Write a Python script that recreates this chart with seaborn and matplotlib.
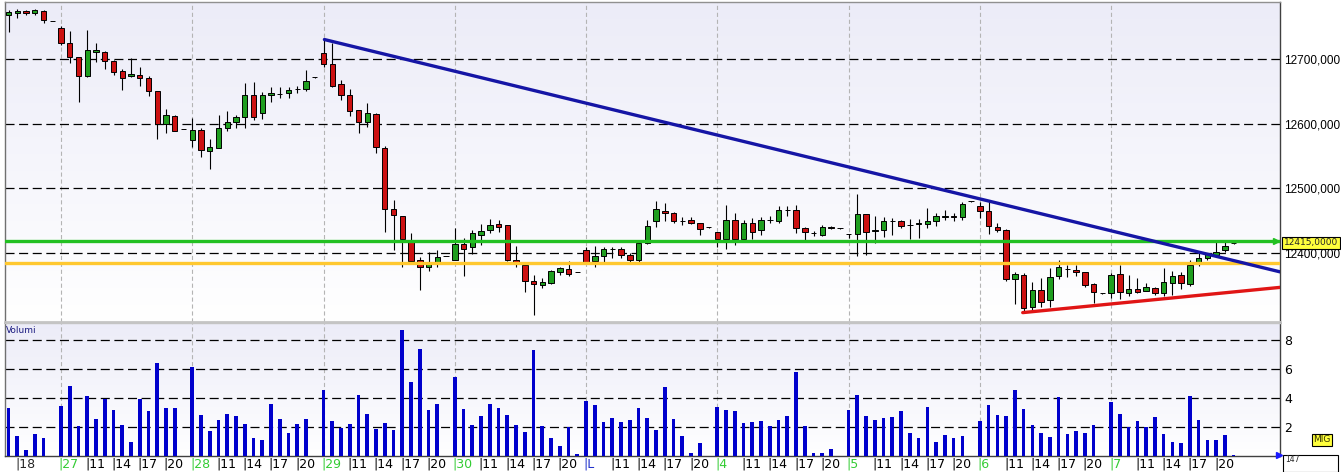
import numpy as np
import pandas as pd
import matplotlib
matplotlib.use('Agg')
import matplotlib.pyplot as plt
import matplotlib.transforms as mtransforms
from matplotlib.colors import LinearSegmentedColormap
import seaborn as sns

# hourly candles, 15 slots per day (8..22), first 6 slots = end of previous day
opens = [12768, 12771, 12774, 12771, 12774, 12759,
         12748, 12724, 12703, 12673, 12710, 12711, 12697, 12682, 12673, 12675, 12671, 12650, 12600, 12612, 12592,
         12575, 12590, 12558, 12563, 12594, 12602, 12610, 12644, 12616, 12644, 12646, 12647, 12653, 12653, 12672,
         12709, 12692, 12661, 12644, 12621, 12603, 12615, 12563, 12468, 12457, 12418, 12390, 12378, 12386, 12396,
         12390, 12414, 12409, 12428, 12436, 12445, 12443, 12390, 12382, 12357, 12350, 12353, 12370, 12375, 12371,
         12405, 12387, 12396, 12406, 12406, 12397, 12389, 12415, 12449, 12465, 12462, 12450, 12451, 12446, 12440,
         12432, 12422, 12451, 12422, 12446, 12436, 12451, 12450, 12467, 12467, 12438, 12431, 12428, 12441, 12438,
         12429, 12429, 12460, 12434, 12436, 12450, 12450, 12444, 12445, 12445, 12449, 12456, 12457, 12456, 12480,
         12472, 12465, 12441, 12436, 12360, 12366, 12316, 12343, 12327, 12365, 12376, 12374, 12370, 12352, 12338,
         12338, 12367, 12339, 12344, 12342, 12346, 12338, 12353, 12366, 12352, 12385, 12392, 12397, 12404, 12415]
highs = [12776, 12777, 12775, 12777, 12776, 12759,
         12751, 12743, 12703, 12745, 12725, 12713, 12699, 12684, 12701, 12688, 12674, 12651, 12622, 12613, 12592,
         12608, 12593, 12576, 12613, 12620, 12613, 12663, 12665, 12649, 12656, 12656, 12657, 12658, 12683, 12672,
         12730, 12724, 12668, 12653, 12621, 12632, 12616, 12566, 12482, 12458, 12431, 12394, 12401, 12405, 12396,
         12438, 12424, 12436, 12445, 12453, 12451, 12443, 12411, 12382, 12366, 12362, 12374, 12379, 12388, 12371,
         12410, 12411, 12410, 12410, 12410, 12400, 12418, 12451, 12481, 12478, 12463, 12455, 12455, 12447, 12440,
         12433, 12474, 12462, 12451, 12454, 12456, 12458, 12473, 12472, 12474, 12441, 12434, 12443, 12442, 12438,
         12430, 12492, 12460, 12457, 12455, 12454, 12451, 12453, 12453, 12469, 12462, 12466, 12462, 12479, 12480,
         12479, 12481, 12446, 12437, 12371, 12369, 12356, 12361, 12377, 12390, 12382, 12382, 12371, 12353, 12338,
         12369, 12382, 12366, 12361, 12353, 12348, 12377, 12373, 12371, 12389, 12402, 12400, 12420, 12419, 12415]
lows = [12742, 12763, 12768, 12768, 12755, 12758,
        12722, 12693, 12634, 12672, 12696, 12685, 12675, 12652, 12672, 12658, 12642, 12577, 12586, 12589, 12591,
        12564, 12549, 12530, 12562, 12588, 12594, 12594, 12605, 12607, 12633, 12639, 12640, 12647, 12651, 12671,
        12688, 12656, 12636, 12612, 12585, 12595, 12555, 12432, 12404, 12379, 12384, 12343, 12372, 12379, 12395,
        12389, 12364, 12399, 12413, 12431, 12432, 12387, 12378, 12340, 12304, 12346, 12352, 12366, 12365, 12370,
        12384, 12378, 12386, 12392, 12393, 12386, 12386, 12414, 12441, 12449, 12446, 12443, 12445, 12428, 12439,
        12410, 12407, 12413, 12420, 12422, 12428, 12446, 12446, 12457, 12431, 12417, 12427, 12426, 12437, 12437,
        12424, 12396, 12397, 12416, 12425, 12428, 12438, 12422, 12423, 12439, 12442, 12451, 12449, 12451, 12479,
        12454, 12429, 12432, 12357, 12322, 12307, 12312, 12317, 12317, 12360, 12363, 12365, 12348, 12323, 12337,
        12330, 12329, 12334, 12338, 12341, 12335, 12334, 12335, 12344, 12349, 12380, 12390, 12394, 12401, 12414]
closes = [12772, 12774, 12771, 12775, 12760, 12759,
          12724, 12703, 12673, 12714, 12714, 12697, 12680, 12671, 12677, 12670, 12650, 12600, 12613, 12589, 12592,
          12590, 12560, 12564, 12594, 12603, 12611, 12645, 12611, 12644, 12648, 12646, 12652, 12653, 12666, 12672,
          12692, 12658, 12645, 12620, 12603, 12616, 12564, 12468, 12459, 12421, 12387, 12378, 12383, 12394, 12396,
          12414, 12406, 12431, 12434, 12443, 12441, 12390, 12386, 12357, 12352, 12355, 12372, 12377, 12367, 12371,
          12386, 12396, 12406, 12406, 12397, 12389, 12415, 12442, 12468, 12462, 12449, 12450, 12447, 12437, 12440,
          12422, 12451, 12422, 12446, 12433, 12451, 12451, 12466, 12467, 12438, 12432, 12431, 12441, 12438, 12438,
          12429, 12460, 12433, 12435, 12450, 12450, 12442, 12444, 12446, 12450, 12457, 12457, 12456, 12476, 12480,
          12465, 12442, 12436, 12360, 12367, 12315, 12343, 12324, 12363, 12378, 12375, 12370, 12351, 12340, 12338,
          12366, 12340, 12344, 12340, 12348, 12339, 12355, 12365, 12353, 12382, 12392, 12398, 12402, 12411, 12415]
volumes = [3.32, 1.41, 0.41, 1.55, 1.27, 0.0,
           3.45, 4.84, 2.05, 4.16, 2.52, 3.95, 3.2, 2.16, 0.95, 3.9, 3.09, 6.41, 3.34, 3.34, 0.0,
           6.14, 2.8, 1.7, 2.45, 2.93, 2.73, 2.18, 1.23, 1.09, 3.61, 2.52, 1.57, 2.18, 2.52, 0.0,
           4.57, 2.39, 1.95, 2.18, 4.23, 2.93, 1.84, 2.25, 1.77, 8.66, 5.11, 7.36, 3.2, 3.61, 0.0,
           5.45, 3.27, 2.11, 2.73, 3.61, 3.34, 2.8, 2.11, 1.64, 7.3, 2.05, 1.23, 0.68, 1.98, 0.14,
           3.82, 3.55, 2.32, 2.59, 2.32, 2.45, 3.34, 2.59, 1.77, 4.77, 2.52, 1.36, 0.2, 0.89, 0.0,
           3.41, 3.2, 3.07, 2.25, 2.32, 2.39, 2.05, 2.45, 2.73, 5.8, 2.05, 0.2, 0.2, 0.48, 0.0,
           3.14, 4.23, 2.73, 2.45, 2.59, 2.66, 3.07, 1.57, 1.23, 3.41, 0.95, 1.43, 1.23, 1.36, 0.0,
           2.39, 3.55, 2.8, 2.73, 4.57, 3.27, 2.11, 1.57, 1.3, 4.09, 1.5, 1.7, 1.57, 2.11, 0.0,
           3.75, 2.93, 1.98, 2.39, 1.98, 2.66, 1.5, 0.95, 0.89, 4.16, 2.45, 1.09, 1.09, 1.43, 0.07]

day_slots = [6, 21, 36, 51, 66, 81, 96, 111, 126]
day_names = ['27', '28', '29', '30', 'L', '4', '5', '6', '7']
hour_names = ['11', '14', '17', '20']

price_ticks = [12400, 12500, 12600, 12700]
vol_ticks = [2, 4, 6, 8]
last_price = 12415

# drawn lines (slot, price)
blue_x, blue_y = [36.1, 145.3], [12730, 12371]
red_x, red_y = [115.9, 145.3], [12308, 12347]
green_level = 12418
orange_level = 12384

df = pd.DataFrame({'open': opens, 'high': highs, 'low': lows, 'close': closes, 'vol': volumes})
df['slot'] = np.arange(len(df))

sns.set_theme(style='white')
plt.rcParams['font.family'] = ['DejaVu Sans']
plt.rcParams['lines.scale_dashes'] = False

W, H = 1341, 472
fig = plt.figure(figsize=(W / 100, H / 100), dpi=100)
fig.patch.set_facecolor('white')


def px_box(x0, y0, x1, y1):
    return [x0 / W, 1 - y1 / H, (x1 - x0) / W, (y1 - y0) / H]


ax = fig.add_axes(px_box(5, 2, 1280, 322))
axv = fig.add_axes(px_box(5, 323, 1280, 456))

# soft background gradient
grad = np.linspace(0, 1, 256).reshape(-1, 1)
bg_cmap = LinearSegmentedColormap.from_list('bg', ['#ffffff', '#ececf8'])
for a in (ax, axv):
    a.imshow(grad, cmap=bg_cmap, extent=[0, 1, 0, 1], transform=a.transAxes,
             aspect='auto', origin='lower', zorder=0)

# grids
for p in price_ticks:
    ax.axhline(p, color='black', lw=0.9, dashes=(6.5, 3.3), zorder=2)
for v in vol_ticks:
    axv.axhline(v, color='black', lw=0.9, dashes=(6.5, 3.3), zorder=2)
for s in day_slots:
    for a in (ax, axv):
        a.axvline(s, color='#b4b4b4', lw=0.8, dashes=(3, 2), zorder=1)

# candles
colors = np.where(df['close'] > df['open'], '#1f9e1f',
                  np.where(df['close'] < df['open'], '#cc1111', '#000000'))
ax.vlines(df['slot'], df['low'], df['high'], color='black', lw=0.8, zorder=3)
ax.bar(df['slot'], df['close'] - df['open'], bottom=df['open'], width=0.62,
       color=colors, edgecolor='black', linewidth=0.7, zorder=4)

# levels and trendlines
ax.axhline(green_level, color='#22c022', lw=2.4, zorder=5)
ax.axhline(orange_level, color='#ffc830', lw=2.4, zorder=5)
ax.plot(blue_x, blue_y, color='#1515a5', lw=2.4, zorder=6)
ax.plot(red_x, red_y, color='#e01515', lw=2.4, zorder=6)
ax.plot(144.8, green_level, marker='>', color='#22c022', ms=5, zorder=7)

# volume
sns.barplot(x='slot', y='vol', data=df, color='#0000cc', width=0.42, saturation=1,
            linewidth=0, antialiased=False, ax=axv, zorder=3)
axv.plot(145.2, 0.05, marker='>', color='#1a1aff', ms=5, clip_on=False, zorder=7)

# axes setup
ax.set_xlim(-0.4, 145.3)
ax.set_ylim(12293.5, 12788)
axv.set_xlim(-0.4, 145.3)
axv.set_ylim(0, 9.17)
for a in (ax, axv):
    a.set_xticks([])
    a.set_xlabel('')
    a.set_ylabel('')
    a.yaxis.tick_right()
    a.tick_params(axis='y', length=0, pad=3, labelsize=9, colors='black')
    a.grid(False)
ax.set_yticks(price_ticks)
ax.set_yticklabels([f'{p},000' for p in price_ticks], family='Liberation Sans', fontsize=8.5)
axv.set_yticks(vol_ticks)
axv.set_yticklabels([str(v) for v in vol_ticks])

for a in (ax, axv):
    a.spines['left'].set_color('#707070')
    a.spines['right'].set_color('#404040')
    a.spines['top'].set_color('#909090')
    a.spines['bottom'].set_color('#404040')
    for sp in a.spines.values():
        sp.set_linewidth(1.0)
ax.spines['bottom'].set_color('#c4c4c4')
ax.spines['bottom'].set_linewidth(2)
axv.spines['top'].set_color('#c4c4c4')

# x labels under the volume panel
tr = mtransforms.blended_transform_factory(axv.transData, axv.transAxes)
axv.text(1 - 0.25, -0.015, '|18', transform=tr, fontsize=9, va='top', ha='left')
for s, d in zip(day_slots, day_names):
    col = '#2233cc' if d == 'L' else '#33cc33'
    axv.text(s - 0.25, -0.015, '|' + d, transform=tr, fontsize=9, va='top', ha='left', color=col)
    for k, h in enumerate(hour_names):
        axv.text(s + 3 * (k + 1) - 0.25, -0.015, '|' + h, transform=tr, fontsize=9,
                 va='top', ha='left', color='black')

axv.text(0.001, 0.94, 'Volumi', transform=axv.transAxes, fontsize=6.5, color='#1a1a80', va='center')

# right side boxes
fig.text(1284 / W, 1 - 243 / H, f'{last_price},0000', fontsize=6.5, va='center', ha='left',
         bbox=dict(boxstyle='square,pad=0.2', fc='#ffff3c', ec='black', lw=0.8))
fig.text(1322 / W, 1 - 440 / H, 'MIG', fontsize=6.5, va='center', ha='center', color='#333300',
         bbox=dict(boxstyle='square,pad=0.2', fc='#ffff3c', ec='black', lw=0.8))
fig.add_artist(plt.Rectangle((1283 / W, 0), 55 / W, 17 / H, transform=fig.transFigure,
                             fc='white', ec='black', lw=0.8))
fig.text(1285 / W, 1 - 460 / H, '147', fontsize=5.5, va='center', ha='left')

fig.savefig('out.png', dpi=100)
